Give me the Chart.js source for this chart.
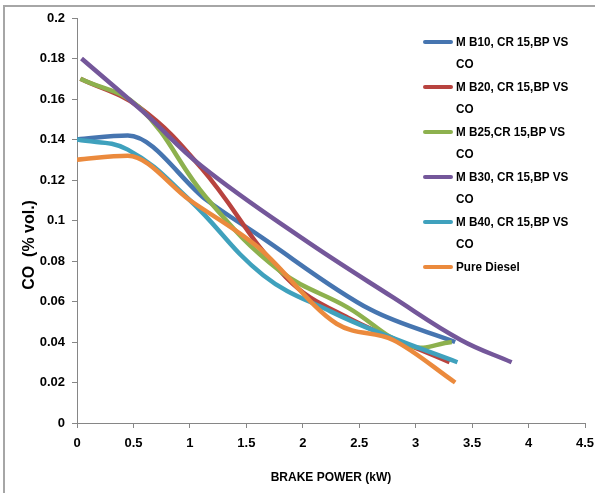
<!DOCTYPE html>
<html>
<head>
<meta charset="utf-8">
<script src="https://cdn.jsdelivr.net/npm/chart.js@4.4.1/dist/chart.umd.min.js"></script>
<style>
  body { margin: 0; background: #fff; }
  #wrap { position: relative; width: 595px; height: 493px; overflow: hidden; }
  #frame { position: absolute; left: 3px; top: 5px; width: 600px; height: 500px;
           border-top: 2px solid #a6a6a6; border-left: 2px solid #a6a6a6; pointer-events: none; }
  #legend { position: absolute; left: 423px; top: 31px; font-family: 'Liberation Sans', Arial, sans-serif;
            font-weight: bold; font-size: 13px; color: #000; }
  .item { display: flex; align-items: flex-start; height: 45px; }
  .swatch { width: 30px; height: 4px; border-radius: 2px; margin-top: 9px; margin-right: 3px; flex: none; }
  .txt { width: 130px; line-height: 22px; transform: scaleX(0.9); transform-origin: left top; }
</style>
</head>
<body>
<div id="wrap">
  <canvas id="grafico" width="595" height="493"></canvas>
  <div id="frame"></div>
  <div id="legend"></div>
</div>
<script>
// Datos
const etiquetas = [
  "M B10, CR 15,BP VS CO",
  "M B20, CR 15,BP VS CO",
  "M B25,CR 15,BP VS CO",
  "M B30, CR 15,BP VS CO",
  "M B40, CR 15,BP VS CO",
  "Pure Diesel"
];
const colores = ["#4675b0", "#b8433f", "#8db14e", "#74579a", "#3fa1bd", "#eb8a3d"];

const b10X = [0, 0.45, 1.15, 1.6, 2.6, 3.35];
const b10Y = [0.14, 0.142, 0.11, 0.093, 0.056, 0.04];
const b20X = [0.03, 0.55, 1.1, 1.85, 2.4, 3.3];
const b20Y = [0.17, 0.156, 0.126, 0.072, 0.052, 0.03];
const b25X = [0.03, 0.55, 1.15, 1.8, 2.4, 2.95, 3.32];
const b25Y = [0.17, 0.156, 0.111, 0.075, 0.057, 0.038, 0.04];
const b30X = [0.04, 0.6, 1.1, 2.0, 2.8, 3.4, 3.85];
const b30Y = [0.18, 0.153, 0.127, 0.091, 0.062, 0.041, 0.03];
const b40X = [0, 0.45, 1.0, 1.65, 2.25, 2.75, 3.37];
const b40Y = [0.14, 0.135, 0.11, 0.073, 0.055, 0.043, 0.03];
const dieselX = [0, 0.45, 1.0, 1.6, 2.3, 2.8, 3.35];
const dieselY = [0.13, 0.132, 0.11, 0.087, 0.049, 0.041, 0.02];

const xTicks = ["0", "0.5", "1", "1.5", "2", "2.5", "3", "3.5", "4", "4.5"];
const yTicks = ["0", "0.02", "0.04", "0.06", "0.08", "0.1", "0.12", "0.14", "0.16", "0.18", "0.2"];

const series = [[b10X, b10Y], [b20X, b20Y], [b25X, b25Y], [b30X, b30Y], [b40X, b40Y], [dieselX, dieselY]];
// blue y orange tienen su maximo en el segundo punto
const monotonas = [true, false, false, false, false, true];

// Pasar arrays a puntos {x, y}
function puntos(xs, ys) {
  return xs.map((x, i) => ({ x: x, y: ys[i] }));
}

const datasets = series.map((s, i) => ({
  label: etiquetas[i],
  data: puntos(s[0], s[1]),
  borderColor: colores[i],
  backgroundColor: colores[i],
  borderWidth: 4.5,
  pointRadius: 0,
  showLine: true,
  tension: 0.4,
  cubicInterpolationMode: monotonas[i] ? 'monotone' : 'default',
  order: series.length - i, // la ultima serie queda encima, como en Excel
  fill: false
}));

const fuente = "'Liberation Sans', Arial, sans-serif";

new Chart(document.getElementById('grafico'), {
  type: 'scatter',
  data: { datasets: datasets },
  options: {
    responsive: false,
    animation: false,
    layout: { padding: { top: 18, right: 10, left: 0, bottom: 0 } },
    plugins: { legend: { display: false }, tooltip: { enabled: false } },
    scales: {
      x: {
        min: 0, max: 4.5,
        afterFit: s => { s.height = 70; s.paddingRight = 0; s.paddingLeft = 0; },
        afterBuildTicks: s => { s.ticks = xTicks.map(t => ({ value: parseFloat(t) })); },
        ticks: {
          callback: (v, i) => xTicks[i],
          color: '#000', padding: 8, maxRotation: 0,
          font: { family: fuente, weight: 'bold', size: 13 }
        },
        grid: { drawOnChartArea: false, drawTicks: true, tickLength: 5, color: '#868686' },
        border: { color: '#868686', width: 1 },
        title: {
          display: true, text: 'BRAKE POWER (kW)', color: '#000',
          padding: { top: 0, bottom: 8 },
          font: { family: fuente, weight: 'bold', size: 12 }
        }
      },
      y: {
        min: 0, max: 0.2,
        afterFit: s => { s.width = 77; },
        afterBuildTicks: s => { s.ticks = yTicks.map(t => ({ value: parseFloat(t) })); },
        ticks: {
          callback: (v, i) => yTicks[i],
          color: '#000', padding: 7,
          font: { family: fuente, weight: 'bold', size: 13 }
        },
        grid: { drawOnChartArea: false, drawTicks: true, tickLength: 5, color: '#868686' },
        border: { color: '#868686', width: 1 },
        title: {
          display: true, text: 'CO  (% vol.)' + '\u00a0'.repeat(11), color: '#000',
          padding: { top: 20, bottom: 0 },
          font: { family: fuente, weight: 'bold', size: 16 }
        }
      }
    }
  }
});

// Leyenda en HTML sobre el grafico
const leyenda = document.getElementById('legend');
etiquetas.forEach((t, i) => {
  const item = document.createElement('div');
  item.className = 'item';
  item.innerHTML = `<span class="swatch" style="background:${colores[i]}"></span><span class="txt">${t}</span>`;
  leyenda.appendChild(item);
});
</script>
</body>
</html>
